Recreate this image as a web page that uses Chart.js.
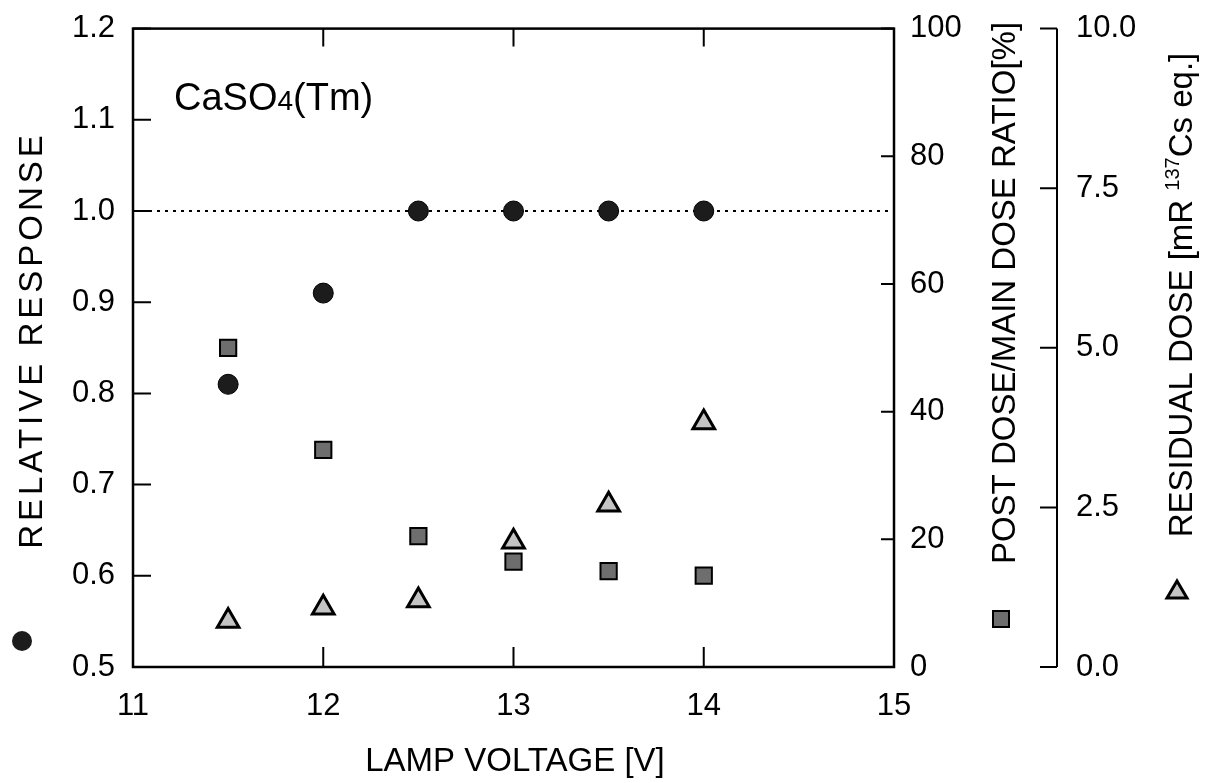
<!DOCTYPE html>
<html>
<head>
<meta charset="utf-8">
<script src="https://cdn.jsdelivr.net/npm/chart.js@4.4.1/dist/chart.umd.min.js"></script>
<style>
html, body { margin: 0; padding: 0; background: #fff; }
</style>
</head>
<body>
<canvas id="myChart" width="1213" height="783"></canvas>
<script>
// lamp voltage [V] of every measurement
const voltage = [11.5, 12, 12.5, 13, 13.5, 14];
// left axis: relative response
const relativeResponse = [0.81, 0.91, 1.0, 1.0, 1.0, 1.0];
// first right axis: post dose / main dose ratio [%]
const postDoseRatio = [50, 34, 20.5, 16.5, 15, 14.3];
// second right axis: residual dose [mR 137Cs eq.]
const residualDose = [0.72, 0.93, 1.04, 1.96, 2.54, 3.83];
// dotted reference line at response 1.0
const refLineX = [11, 15];
const refLineY = [1.0, 1.0];

const xTicks = [11, 12, 13, 14, 15];
const leftTicks = [0.5, 0.6, 0.7, 0.8, 0.9, 1.0, 1.1, 1.2];
const postTicks = [0, 20, 40, 60, 80, 100];
const residualTicks = [0, 2.5, 5, 7.5, 10];

const FONT = "'Liberation Sans', Arial, sans-serif";

function pairs(xs, ys) {
    return xs.map((x, i) => ({x: x, y: ys[i]}));
}

// legend keys next to the axis titles
function keyCircle(ctx, x, y) {
    ctx.beginPath();
    ctx.arc(x, y, 10, 0, Math.PI * 2);
    ctx.fillStyle = '#1c1c1c';
    ctx.fill();
}
function keySquare(ctx, x, y) {
    ctx.fillStyle = '#6e6e6e';
    ctx.fillRect(x - 8, y - 8, 16, 16);
    ctx.lineWidth = 2;
    ctx.strokeStyle = '#000';
    ctx.strokeRect(x - 8, y - 8, 16, 16);
}
function keyTriangle(ctx, x, y) {
    ctx.beginPath();
    ctx.moveTo(x, y - 10);
    ctx.lineTo(x + 10, y + 7);
    ctx.lineTo(x - 10, y + 7);
    ctx.closePath();
    ctx.fillStyle = '#c4c4c4';
    ctx.fill();
    ctx.lineWidth = 3;
    ctx.strokeStyle = '#000';
    ctx.stroke();
}

function rotatedText(ctx, parts, cx, cy, spacing) {
    ctx.save();
    ctx.translate(cx, cy);
    ctx.rotate(-Math.PI / 2);
    ctx.letterSpacing = (spacing || 0) + 'px';
    let total = 0;
    parts.forEach(p => { ctx.font = p.font; total += ctx.measureText(p.text).width; });
    let x = -total / 2;
    ctx.textAlign = 'left';
    ctx.textBaseline = 'alphabetic';
    parts.forEach(p => {
        ctx.font = p.font;
        ctx.fillText(p.text, x, 12 + (p.dy || 0));
        x += ctx.measureText(p.text).width;
    });
    ctx.restore();
}

const axesPlugin = {
    id: 'axesPlugin',
    beforeDatasetsDraw(chart) {
        const ctx = chart.ctx, a = chart.chartArea;
        const sx = chart.scales.x, sy = chart.scales.y;
        const s2 = chart.scales.y2, s3 = chart.scales.y3;
        ctx.save();
        ctx.strokeStyle = '#000';
        ctx.lineWidth = 2.5;
        ctx.strokeRect(a.left, a.top, a.right - a.left, a.bottom - a.top);

        ctx.lineWidth = 2;
        ctx.beginPath();
        leftTicks.forEach(v => {
            const y = sy.getPixelForValue(v);
            ctx.moveTo(a.left, y); ctx.lineTo(a.left + 18, y);
        });
        xTicks.slice(1, -1).forEach(v => {
            const x = sx.getPixelForValue(v);
            ctx.moveTo(x, a.bottom); ctx.lineTo(x, a.bottom - 20);
            ctx.moveTo(x, a.top); ctx.lineTo(x, a.top + 18);
        });
        postTicks.forEach(v => {
            const y = s2.getPixelForValue(v);
            ctx.moveTo(a.right, y); ctx.lineTo(a.right - 13, y);
        });
        const ax3 = a.right + 163;
        ctx.moveTo(ax3, a.top); ctx.lineTo(ax3, a.bottom);
        residualTicks.forEach(v => {
            const y = s3.getPixelForValue(v);
            ctx.moveTo(ax3, y); ctx.lineTo(ax3 - 17, y);
        });
        ctx.stroke();

        ctx.fillStyle = '#000';
        ctx.font = '31px ' + FONT;
        ctx.textAlign = 'left';
        ctx.textBaseline = 'middle';
        postTicks.forEach(v => ctx.fillText(String(v), a.right + 16, s2.getPixelForValue(v)));
        residualTicks.forEach(v => ctx.fillText(v.toFixed(1), ax3 + 19, s3.getPixelForValue(v)));
        ctx.restore();
    },
    afterDraw(chart) {
        const ctx = chart.ctx;
        const big = '33px ' + FONT;
        ctx.save();
        ctx.fillStyle = '#000';

        rotatedText(ctx, [{text: 'RELATIVE RESPONSE', font: big}], 30, 340, 4);
        rotatedText(ctx, [{text: 'POST DOSE/MAIN DOSE RATIO[%]', font: big}], 1003, 293);
        rotatedText(ctx, [
            {text: 'RESIDUAL DOSE [mR ', font: big},
            {text: '137', font: '20px ' + FONT, dy: -13},
            {text: 'Cs eq.]', font: big}
        ], 1180, 295);

        ctx.font = big;
        ctx.textAlign = 'center';
        ctx.textBaseline = 'middle';
        ctx.fillText('LAMP VOLTAGE [V]', 515, 762);

        // sample label
        ctx.textAlign = 'left';
        ctx.textBaseline = 'alphabetic';
        let x = 174;
        ctx.font = '38px ' + FONT;
        ctx.fillText('CaSO', x, 110);
        x += ctx.measureText('CaSO').width;
        ctx.font = '28px ' + FONT;
        ctx.fillText('4', x, 110);
        x += ctx.measureText('4').width;
        ctx.font = '38px ' + FONT;
        ctx.fillText('(Tm)', x, 110);

        keyCircle(ctx, 22, 641);
        keySquare(ctx, 1001, 619);
        keyTriangle(ctx, 1177, 591);
        ctx.restore();
    }
};

const config = {
    type: 'scatter',
    data: {
        datasets: [
            {
                label: 'Relative response',
                data: pairs(voltage, relativeResponse),
                yAxisID: 'y',
                pointStyle: 'circle',
                pointRadius: 10,
                backgroundColor: '#1c1c1c',
                borderColor: '#000',
                borderWidth: 1
            },
            {
                label: 'Post dose / main dose ratio',
                data: pairs(voltage, postDoseRatio),
                yAxisID: 'y2',
                pointStyle: 'rect',
                pointRadius: 11.5,
                backgroundColor: '#6e6e6e',
                borderColor: '#000',
                borderWidth: 2
            },
            {
                label: 'Residual dose',
                data: pairs(voltage, residualDose),
                yAxisID: 'y3',
                pointStyle: 'triangle',
                pointRadius: 12.5,
                backgroundColor: '#c4c4c4',
                borderColor: '#000',
                borderWidth: 3
            },
            {
                type: 'line',
                label: 'reference',
                data: pairs(refLineX, refLineY),
                yAxisID: 'y',
                borderColor: '#000',
                borderWidth: 2,
                borderDash: [3, 5],
                pointRadius: 0,
                fill: false
            }
        ]
    },
    options: {
        responsive: false,
        animation: false,
        layout: {padding: {left: 0, top: 12, right: 319, bottom: 0}},
        plugins: {
            legend: {display: false},
            tooltip: {enabled: false}
        },
        scales: {
            x: {
                type: 'linear',
                min: 11, max: 15,
                afterBuildTicks: s => { s.ticks = xTicks.map(v => ({value: v})); },
                afterFit: s => { s.height = 116; },
                grid: {display: false},
                border: {display: false},
                ticks: {color: '#000', font: {family: FONT, size: 31}, padding: 13}
            },
            y: {
                type: 'linear',
                position: 'left',
                min: 0.5, max: 1.2,
                afterBuildTicks: s => { s.ticks = leftTicks.map(v => ({value: v})); },
                afterFit: s => { s.width = 133; },
                grid: {display: false},
                border: {display: false},
                ticks: {
                    color: '#000', font: {family: FONT, size: 31}, padding: 10,
                    callback: v => v.toFixed(1)
                }
            },
            y2: {type: 'linear', position: 'right', display: false, min: 0, max: 100},
            y3: {type: 'linear', position: 'right', display: false, min: 0, max: 10}
        }
    },
    plugins: [axesPlugin]
};

var ctx = document.getElementById('myChart').getContext('2d');
var myChart = new Chart(ctx, config);
</script>
</body>
</html>
